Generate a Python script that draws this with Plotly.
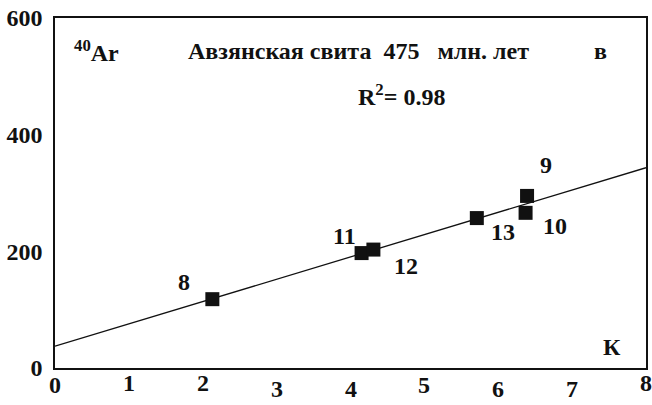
import numpy as np
import plotly.graph_objects as go

# Sample numbers, potassium content (K) and radiogenic 40Ar
samples = ["8", "11", "12", "13", "9", "10"]
k_values = [2.13, 4.15, 4.31, 5.71, 6.39, 6.37]
ar_values = [118, 197, 203, 257, 295, 266]

x_ticks = [0, 1, 2, 3, 4, 5, 6, 7, 8]
y_ticks = [0, 200, 400, 600]

# label offsets (px) for sample numbers and x tick labels
label_offsets = {"8": (-28, 17), "11": (-17, 17), "12": (33, -16),
                 "13": (26, -14), "9": (19, 31), "10": (29, -13)}
xtick_drop = [17, 15, 15, 21, 21, 17, 21, 21, 15]

FONT = "Liberation Serif"
BLACK = "#111111"

# least-squares isochron line
slope, intercept = np.polyfit(k_values, ar_values, 1)
line_x = [x_ticks[0], x_ticks[-1]]
line_y = [intercept + slope * v for v in line_x]

fig = go.Figure()
fig.add_trace(go.Scatter(x=line_x, y=line_y, mode="lines",
                         line=dict(color=BLACK, width=1.3), hoverinfo="skip"))
fig.add_trace(go.Scatter(x=k_values, y=ar_values, mode="markers",
                         marker=dict(symbol="square", size=14, color=BLACK,
                                     line=dict(width=0))))

def txt(x, y, text, size=24, **kw):
    d = dict(x=x, y=y, text=text, showarrow=False, xanchor="center",
             yanchor="middle", font=dict(family=FONT, size=size, color=BLACK))
    d.update(kw)
    return d

ann = []
for s, kx, ay in zip(samples, k_values, ar_values):
    dx, dy = label_offsets[s]
    ann.append(txt(kx, ay, f"<b>{s}</b>", xref="x", yref="y",
                   xshift=dx, yshift=dy))
for t, d in zip(x_ticks, xtick_drop):
    ann.append(txt(t, 0, f"<b>{t}</b>", xref="x", yref="paper", yshift=-d))

ann += [
    txt(0.070, 0.905, "<b><sup>40</sup>Ar</b>", xref="paper", yref="paper"),
    txt(0.514, 0.905,
        "<b>Авзянская свита\u00a0\u00a0475\u00a0\u00a0\u00a0млн. лет</b>",
        xref="paper", yref="paper"),
    txt(0.923, 0.905, "<b>в</b>", xref="paper", yref="paper"),
    txt(0.586, 0.78, "<b>R<sup>2</sup>= 0.98</b>", xref="paper", yref="paper"),
    txt(0.942, 0.06, "<b>К</b>", xref="paper", yref="paper"),
]

fig.update_layout(
    width=652, height=405,
    margin=dict(l=55, r=6, t=18, b=37),
    paper_bgcolor="white", plot_bgcolor="white",
    showlegend=False,
    annotations=ann,
    xaxis=dict(range=[0, 8], tickvals=x_ticks, showticklabels=False,
               showgrid=False, zeroline=False, ticks="", automargin=False,
               showline=True, linecolor=BLACK, linewidth=1.5, mirror=True),
    yaxis=dict(range=[0, 600], tickvals=y_ticks,
               ticktext=[f"<b>{v}</b>" for v in y_ticks],
               tickfont=dict(family=FONT, size=24, color=BLACK),
               showgrid=False, zeroline=False, ticks="", automargin=False,
               ticklabelstandoff=6,
               showline=True, linecolor=BLACK, linewidth=1.5, mirror=True),
)

fig.write_html("out.html")
